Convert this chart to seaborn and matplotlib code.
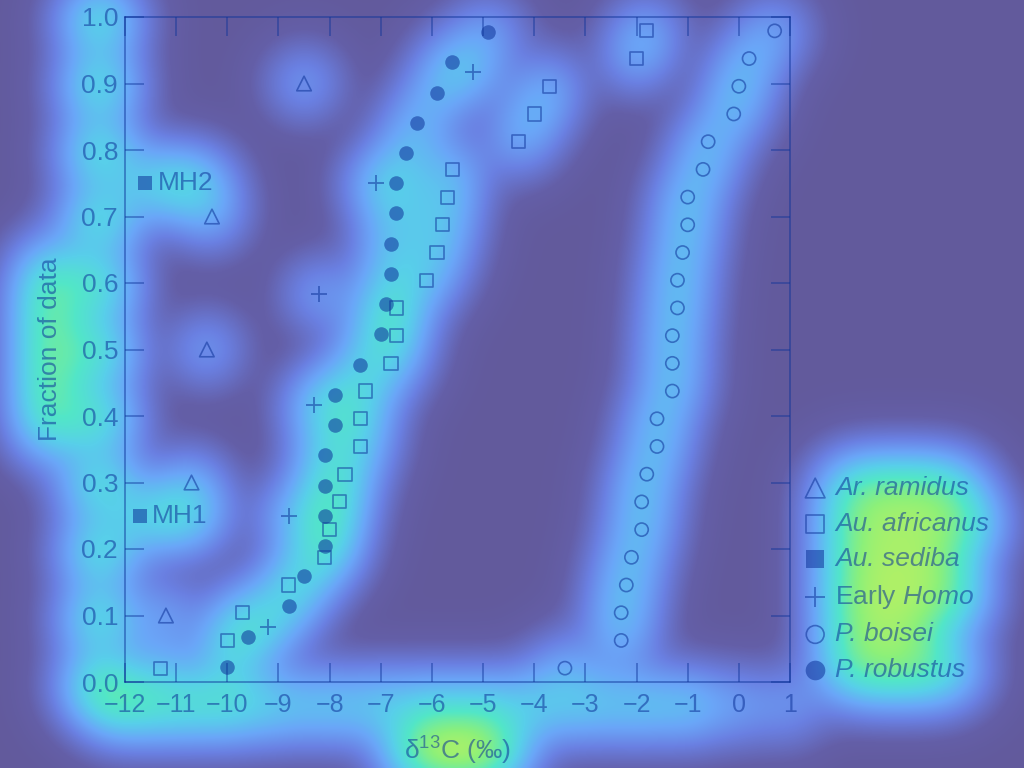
import numpy as np
import matplotlib
matplotlib.use("Agg")
import matplotlib.pyplot as plt
import seaborn as sns
from matplotlib.colors import LinearSegmentedColormap
from matplotlib.ticker import FuncFormatter

# -----------------------------
# 1. Data: d13C values (per mil), one list per taxon
# -----------------------------
ramidus = [-11.2, -10.7, -10.4, -10.3, -8.5]
africanus = [-11.3, -10.0, -9.7, -8.8, -8.1, -8.0, -7.8, -7.7, -7.4, -7.4, -7.3, -6.8,
             -6.7, -6.7, -6.1, -5.9, -5.8, -5.7, -5.6, -4.3, -4.0, -3.7, -2.0, -1.8]
sediba = [-11.7, -11.6]
sediba_names = ["MH1", "MH2"]
early_homo = [-9.2, -8.8, -8.3, -8.2, -7.1, -5.2]
boisei = [-3.4, -2.3, -2.3, -2.2, -2.1, -1.9, -1.9, -1.8, -1.6, -1.6, -1.3, -1.3,
          -1.3, -1.2, -1.2, -1.1, -1.0, -1.0, -0.7, -0.6, -0.1, 0.0, 0.2, 0.7]
robustus = [-10.0, -9.6, -8.8, -8.5, -8.1, -8.1, -8.1, -8.1, -7.9, -7.9, -7.4,
            -7.0, -6.9, -6.8, -6.8, -6.7, -6.7, -6.5, -6.3, -5.9, -5.6, -4.9]

labels = ["Ar. ramidus", "Au. africanus", "Au. sediba",
          r"Early $\mathit{Homo}$", "P. boisei", "P. robustus"]
x_ticks = list(range(-12, 2))
y_ticks = [0.0, 0.1, 0.2, 0.3, 0.4, 0.5, 0.6, 0.7, 0.8, 0.9, 1.0]


def plotting_positions(vals):
    # cumulative fraction of data, (i - 0.5) / n
    v = np.sort(np.asarray(vals, dtype=float))
    n = len(v)
    return v, (np.arange(1, n + 1) - 0.5) / n


# -----------------------------
# 2. Style
# -----------------------------
sns.set_style("ticks")
plt.rcParams["font.family"] = ["Liberation Sans", "DejaVu Sans"]
plt.rcParams["mathtext.fontset"] = "custom"
plt.rcParams["mathtext.rm"] = "Liberation Sans"
plt.rcParams["mathtext.it"] = "Liberation Sans:italic"

ink = (0.05, 0.2, 0.6, 0.55)
bg = "#625A9C"

fig = plt.figure(figsize=(10.24, 7.68), dpi=100, facecolor=bg)
ax = fig.add_axes([125 / 1024, 1 - 682 / 768, 665 / 1024, 665 / 768])
ax.set_facecolor("none")
ax.set_zorder(1)

# -----------------------------
# 3. Scatter series
# -----------------------------
series = [
    (labels[0], ramidus, "^", "open", 110),
    (labels[1], africanus, "s", "open", 90),
    (labels[2], sediba, "s", "filled", 100),
    (labels[3], early_homo, "+", "line", 120),
    (labels[4], boisei, "o", "open", 90),
    (labels[5], robustus, "o", "filled", 110),
]
for label, vals, marker, kind, size in series:
    x, y = plotting_positions(vals)
    kw = dict(x=x, y=y, marker=marker, s=size, ax=ax, label=label, zorder=3)
    if kind == "open":
        sns.scatterplot(color=ink, facecolor="none", edgecolor=ink, linewidth=1.2, **kw)
    elif kind == "filled":
        sns.scatterplot(color=ink, linewidth=0, **kw)
    else:
        sns.scatterplot(color=ink, linewidth=1.3, **kw)

# MH1 / MH2 labels next to the sediba squares
sx, sy = plotting_positions(sediba)
mh_texts = []
for name, xv, yv in zip(sediba_names, sx, sy):
    mh_texts.append(ax.annotate(name, (xv, yv), xytext=(12, 0), textcoords="offset pixels",
                                va="center", ha="left", fontsize=19, color=ink))

# -----------------------------
# 4. Axes, ticks, legend
# -----------------------------
ax.set_xlim(-12, 1)
ax.set_ylim(0, 1)
ax.set_xticks(x_ticks)
ax.set_yticks(y_ticks)
ax.yaxis.set_major_formatter(FuncFormatter(lambda v, p: f"{v:.1f}"))
ax.tick_params(direction="in", length=14, width=1.1, top=True, right=True,
               labelsize=19, color=ink, labelcolor=ink)
ax.tick_params(axis="x", pad=8, labelsize=18)
ax.tick_params(axis="y", pad=5)
for sp in ax.spines.values():
    sp.set_visible(True)
    sp.set_color(ink)
    sp.set_linewidth(1.2)

ax.set_xlabel(r"δ$^{13}$C (‰)", fontsize=19, color=ink, labelpad=13)
ax.set_ylabel("Fraction of data", fontsize=19, color=ink, labelpad=14)

leg = ax.legend(loc="lower left", bbox_to_anchor=(1.02, 0.0), frameon=False,
                fontsize=19, handlelength=0.9, handletextpad=0.3, labelspacing=0.44,
                borderpad=0, borderaxespad=0, markerscale=1.35)
for t in leg.get_texts():
    t.set_color(ink)
    if "Early" not in t.get_text():
        t.set_fontstyle("italic")

# -----------------------------
# 5. Glow layer built from the drawn points and texts
# -----------------------------
fig.canvas.draw()
renderer = fig.canvas.get_renderer()
W, H = fig.canvas.get_width_height()
pad = 120
sigma = 26.0
seeds = np.zeros((H + 2 * pad, W + 2 * pad))

point_w = 1.3 * 2 * np.pi * sigma ** 2
for coll in ax.collections:
    pix = ax.transData.transform(coll.get_offsets())
    for px, py in pix:
        seeds[int(py) + pad, int(px) + pad] += point_w


def add_text(artist, w):
    bb = artist.get_window_extent(renderer)
    x0, x1 = int(bb.x0) + pad, int(bb.x1) + pad
    y0, y1 = int(bb.y0) + pad, int(bb.y1) + pad
    seeds[max(y0, 0):max(y1, 0), max(x0, 0):max(x1, 0)] += w


for t in ax.get_xticklabels():
    add_text(t, 16)
for t in ax.get_yticklabels():
    add_text(t, 20)
for t in leg.get_texts():
    add_text(t, 15)
for t in mh_texts:
    add_text(t, 14)
add_text(ax.xaxis.label, 20)
add_text(ax.yaxis.label, 17)

ky = np.fft.fftfreq(seeds.shape[0])
kx = np.fft.rfftfreq(seeds.shape[1])
kernel = np.exp(-2 * (np.pi * sigma) ** 2 * (ky[:, None] ** 2 + kx[None, :] ** 2))
raw = np.fft.irfft2(np.fft.rfft2(seeds) * kernel, s=seeds.shape)[pad:-pad, pad:-pad]
heat = 0.3 * np.clip(raw, 0, None) ** 0.48

glow = LinearSegmentedColormap.from_list("glow", [
    (0.0, bg), (0.12, "#645FA8"), (0.3, "#6A80E2"), (0.45, "#6AA6F8"),
    (0.6, "#58CFEA"), (0.72, "#52E6C8"), (0.85, "#8CF07A"), (1.0, "#D8F250")])

bg_ax = fig.add_axes([0, 0, 1, 1], zorder=-1)
bg_ax.imshow(heat, cmap=glow, vmin=0, vmax=1, origin="lower", extent=(0, W, 0, H),
             aspect="auto", interpolation="bilinear")
bg_ax.axis("off")

fig.savefig("out.png", dpi=100, facecolor=fig.get_facecolor())
